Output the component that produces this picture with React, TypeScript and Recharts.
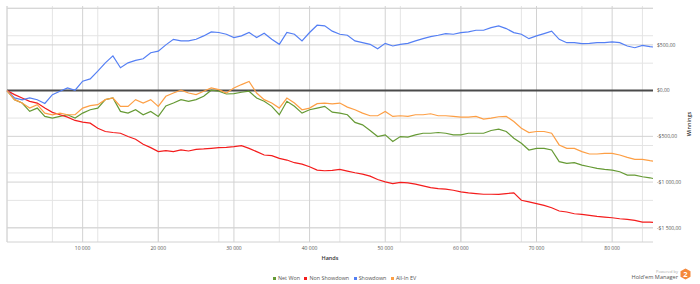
import {
  LineChart,
  Line,
  XAxis,
  YAxis,
  CartesianGrid,
  ReferenceLine,
  Legend,
} from 'recharts';

// hands played (x), sampled every 1000 hands
const hands = [
  0, 1000, 2000, 3000, 4000, 5000, 6000, 7000, 8000, 9000,
  10000, 11000, 12000, 13000, 14000, 15000, 16000, 17000, 18000, 19000,
  20000, 21000, 22000, 23000, 24000, 25000, 26000, 27000, 28000, 29000,
  30000, 31000, 32000, 33000, 34000, 35000, 36000, 37000, 38000, 39000,
  40000, 41000, 42000, 43000, 44000, 45000, 46000, 47000, 48000, 49000,
  50000, 51000, 52000, 53000, 54000, 55000, 56000, 57000, 58000, 59000,
  60000, 61000, 62000, 63000, 64000, 65000, 66000, 67000, 68000, 69000,
  70000, 71000, 72000, 73000, 74000, 75000, 76000, 77000, 78000, 79000,
  80000, 81000, 82000, 83000, 84000, 85000, 85400,
];

const netWon = [
  0, -99, -136, -227, -191, -282, -300, -282, -264, -300,
  -246, -209, -191, -99, -81, -227, -246, -209, -264, -227,
  -282, -168, -136, -99, -117, -99, -62, 4, -7, -37,
  -33, -18, -7, -81, -117, -172, -264, -117, -172, -246,
  -209, -191, -172, -236, -246, -264, -348, -374, -436, -502,
  -484, -557, -502, -509, -484, -466, -466, -458, -466, -484,
  -484, -466, -466, -466, -436, -422, -447, -520, -576, -649,
  -631, -631, -649, -777, -795, -788, -814, -832, -851, -862,
  -869, -887, -924, -924, -942, -953, -961,
];

const nonShowdown = [
  0, -44, -81, -117, -136, -191, -238, -264, -290, -326,
  -345, -356, -411, -447, -458, -466, -502, -532, -587, -623,
  -667, -656, -667, -649, -660, -642, -638, -631, -623, -620,
  -612, -601, -631, -667, -704, -711, -741, -759, -788, -803,
  -832, -869, -876, -872, -862, -880, -898, -913, -935, -972,
  -997, -1016, -1004, -1008, -1023, -1041, -1060, -1071, -1078, -1089,
  -1107, -1118, -1126, -1133, -1133, -1135, -1126, -1118, -1199, -1217,
  -1236, -1254, -1280, -1316, -1327, -1346, -1353, -1364, -1375, -1382,
  -1390, -1401, -1408, -1419, -1437, -1437, -1441,
];

const showdown = [
  0, -80, -100, -80, -100, -140, -44, -7, 30, 4,
  103, 128, 213, 304, 380, 250, 304, 330, 348, 414,
  432, 500, 561, 543, 543, 561, 598, 642, 635, 616,
  580, 598, 635, 580, 627, 561, 506, 635, 616, 543,
  635, 715, 708, 650, 616, 605, 543, 524, 506, 458,
  517, 488, 506, 517, 543, 568, 590, 605, 623, 616,
  634, 642, 660, 660, 689, 708, 678, 634, 616, 568,
  598, 623, 650, 561, 524, 524, 513, 517, 524, 524,
  532, 524, 488, 469, 495, 480, 477,
];

const allInEv = [
  0, -99, -136, -191, -154, -246, -264, -246, -264, -264,
  -191, -165, -154, -99, -81, -172, -172, -99, -136, -99,
  -172, -62, -26, 4, -26, -44, -7, 29, 11, -26,
  29, 66, 100, -26, -99, -136, -191, -81, -136, -209,
  -191, -143, -136, -145, -136, -180, -209, -246, -275, -275,
  -227, -282, -275, -282, -264, -264, -253, -275, -275, -282,
  -290, -290, -282, -312, -301, -286, -282, -337, -411, -458,
  -447, -447, -466, -594, -631, -631, -667, -693, -693, -686,
  -686, -704, -730, -752, -752, -766, -770,
];

const xTicks = [10000, 20000, 30000, 40000, 50000, 60000, 70000, 80000];
const yTicks = [-1500, -1000, -500, 0, 500];

const series = [
  { key: 'netWon', name: 'Net Won', color: '#669a35' },
  { key: 'nonShowdown', name: 'Non Showdown', color: '#f41c1c' },
  { key: 'showdown', name: 'Showdown', color: '#547ff4' },
  { key: 'allInEv', name: 'All-In EV', color: '#fd9f45' },
];

const data = hands.map((h, i) => ({
  hands: h,
  netWon: netWon[i],
  nonShowdown: nonShowdown[i],
  showdown: showdown[i],
  allInEv: allInEv[i],
}));

const FONT = '"Open Sans", Arial, sans-serif';

const minorX: number[] = [];
for (let h = 0; h <= 84000; h += 2000) minorX.push(h);
const minorY: number[] = [];
for (let v = -1600; v <= 900; v += 100) minorY.push(v);

// thousands grouped with a no-break space so the labels never wrap
function groupThousands(n: number) {
  return String(n).replace(/\B(?=(\d{3})+(?!\d))/g, '\u00a0');
}

function fmtHands(v: number) {
  return groupThousands(v);
}

function fmtMoney(v: number) {
  const sign = v < 0 ? '-' : '';
  return `${sign}$${groupThousands(Math.abs(v))},00`;
}

function ChartLegend() {
  return (
    <div
      style={{
        display: 'flex',
        justifyContent: 'flex-start',
        paddingLeft: 273,
        height: 12,
        alignItems: 'center',
        fontFamily: FONT,
        fontSize: 5.4,
        color: '#555',
      }}
    >
      {series.map((s) => (
        <div key={s.key} style={{ display: 'flex', alignItems: 'center', marginRight: 4.5 }}>
          <span
            style={{
              display: 'inline-block',
              width: 3,
              height: 3,
              background: s.color,
              marginRight: 2,
            }}
          />
          <span>{s.name}</span>
        </div>
      ))}
    </div>
  );
}

function Logo() {
  return (
    <div
      style={{
        position: 'absolute',
        right: 9,
        top: 268,
        display: 'flex',
        alignItems: 'center',
        fontFamily: FONT,
      }}
    >
      <div style={{ textAlign: 'right', lineHeight: '5px', marginRight: 2 }}>
        <div style={{ fontSize: 4, color: '#aaa' }}>Powered by</div>
        <div style={{ fontSize: 5.6, color: '#555', marginTop: 1 }}>Hold'em Manager</div>
      </div>
      <svg width={11} height={12} viewBox="0 0 11 12">
        <polygon points="5.5,0.5 10.5,3.2 10.5,8.8 5.5,11.5 0.5,8.8 0.5,3.2" fill="#f5883a" />
        <text x={5.5} y={8.6} textAnchor="middle" fontSize={7.5} fontWeight={700} fill="#fff" fontFamily={FONT}>
          2
        </text>
      </svg>
    </div>
  );
}

export default function App() {
  return (
    <div style={{ position: 'absolute', left: 0, top: 0, width: 700, height: 284, background: '#fff' }}>
      <LineChart width={700} height={284} data={data} margin={{ top: 6, right: 0, bottom: 0, left: 7 }}>
        <CartesianGrid
          stroke="#e4e4e4"
          strokeWidth={1}
          verticalValues={minorX}
          horizontalValues={minorY}
          syncWithTicks={false}
        />
        <CartesianGrid
          stroke="#d2d2d2"
          strokeWidth={1}
          verticalValues={[0, ...xTicks]}
          horizontalValues={[-1500, -1000, -500, 500, 900]}
        />
        <XAxis
          dataKey="hands"
          type="number"
          domain={[0, 85400]}
          ticks={xTicks}
          tickFormatter={fmtHands}
          tickLine={false}
          axisLine={{ stroke: '#d2d2d2' }}
          tickSize={0}
          tickMargin={4}
          height={30}
          tick={{ fontSize: 5, fill: '#555', fontFamily: FONT }}
          label={(props: any) => {
            const vb = props.viewBox;
            return (
              <text
                x={vb.x + vb.width / 2}
                y={vb.y + 18}
                textAnchor="middle"
                fontSize={5.5}
                fontWeight={600}
                fill="#333"
                fontFamily={FONT}
              >
                Hands
              </text>
            );
          }}
        />
        <YAxis
          orientation="right"
          type="number"
          domain={[-1655, 925]}
          ticks={yTicks}
          tickFormatter={fmtMoney}
          tickLine={false}
          axisLine={false}
          tickSize={0}
          tickMargin={4}
          width={47}
          tick={{ fontSize: 5, fill: '#555', fontFamily: FONT, width: 60 }}
          label={(props: any) => {
            const vb = props.viewBox;
            const x = vb.x + vb.width - 11;
            const y = vb.y + vb.height / 2;
            return (
              <text
                x={x}
                y={y}
                transform={`rotate(-90 ${x} ${y})`}
                textAnchor="middle"
                dominantBaseline="central"
                fontSize={5.5}
                fontWeight={600}
                fill="#333"
                fontFamily={FONT}
              >
                Winnings
              </text>
            );
          }}
        />
        <ReferenceLine y={0} stroke="#4a4a4a" strokeWidth={2} />
        {series.map((s) => (
          <Line
            key={s.key}
            type="linear"
            dataKey={s.key}
            name={s.name}
            stroke={s.color}
            strokeWidth={1.2}
            dot={false}
            isAnimationActive={false}
          />
        ))}
        <Legend verticalAlign="bottom" height={12} content={<ChartLegend />} wrapperStyle={{ left: 0, width: 700 }} />
      </LineChart>
      <Logo />
    </div>
  );
}
